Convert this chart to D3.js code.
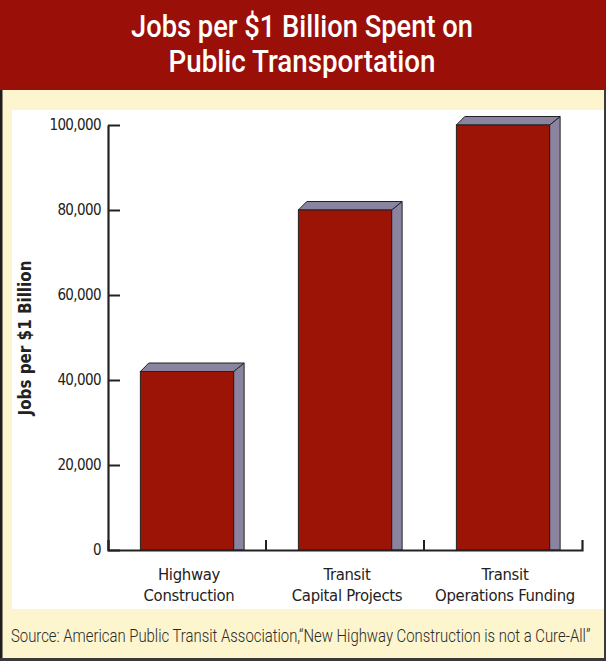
<!DOCTYPE html>
<html>
<head>
<meta charset="utf-8">
<script src="https://cdn.jsdelivr.net/npm/d3@7"></script>
<style>
  html, body { margin: 0; padding: 0; background: #fcf5cd; }
  svg { display: block; }
</style>
</head>
<body>
<svg id="chart" width="606" height="661"></svg>
<script>
// Chart data
const titleLines = ["Jobs per $1 Billion Spent on", "Public Transportation"];
const categories = [
  ["Highway", "Construction"],
  ["Transit", "Capital Projects"],
  ["Transit", "Operations Funding"]
];
const jobs = [42000, 80000, 100000];
const yTicks = [0, 20000, 40000, 60000, 80000, 100000];
const yAxisTitle = "Jobs per $1 Billion";
const sourceNote = "Source: American Public Transit Association,\u201CNew Highway Construction is not a Cure-All\u201D";

const W = 606, H = 661;
const svg = d3.select("#chart");

const RED = "#9a0f08";
const CREAM = "#fcf5cd";
const BAR_FRONT = "#9c1405";
const BAR_SIDE = "#8b84a0";
const INK = "#222";
const condensed = "'DejaVu Sans Condensed', 'DejaVu Sans', sans-serif";

// Squeeze a text horizontally so that its drawn width becomes `target`,
// keeping it anchored at (ax, ay) with the given alignment.
function squeeze(textSel, ax, ay, target, anchor) {
  const node = textSel.node();
  const w = node.getComputedTextLength();
  const s = target / w;
  textSel.attr("x", 0).attr("y", 0).attr("text-anchor", anchor)
    .attr("transform", `translate(${ax},${ay}) scale(${s},1)`);
}

// Page frame: cream card, red title banner, dark edges
svg.append("rect").attr("x", 0).attr("y", 0).attr("width", W).attr("height", H).attr("fill", CREAM);
svg.append("rect").attr("x", 0).attr("y", 0).attr("width", W).attr("height", 90).attr("fill", RED);
svg.append("rect").attr("x", 0).attr("y", 90).attr("width", 2.5).attr("height", H - 90).attr("fill", "#1e1e1e");
svg.append("rect").attr("x", W - 2).attr("y", 90).attr("width", 2).attr("height", H - 90).attr("fill", "#3a3a3a");
svg.append("rect").attr("x", 0).attr("y", H - 3).attr("width", W).attr("height", 3).attr("fill", "#3a3a3a");

// White plotting panel
svg.append("rect").attr("x", 12).attr("y", 110).attr("width", W - 14).attr("height", 499).attr("fill", "#ffffff");

// Title, two lines in one text block
const titleWidths = [342, 267];
const title = svg.append("text")
  .attr("fill", "#ffffff")
  .attr("font-family", "Roboto, 'Open Sans', sans-serif")
  .attr("font-weight", 500)
  .attr("font-size", 32)
  .attr("text-anchor", "middle");
title.selectAll("tspan").data(titleLines).join("tspan")
  .attr("x", 302)
  .attr("y", (d, i) => 37 + i * 35)
  .attr("textLength", (d, i) => titleWidths[i])
  .attr("lengthAdjust", "spacingAndGlyphs")
  .text(d => d);

// Scales
const x = d3.scaleBand()
  .domain(d3.range(categories.length))
  .range([108, 582])
  .paddingInner(0.41)
  .paddingOuter(0.205);

const y = d3.scaleLinear().domain([0, 100000]).range([550, 125]);

// Y axis: ticks point inward, labels on the left
const yAxis = d3.axisLeft(y)
  .tickValues(yTicks)
  .tickFormat(d3.format(","))
  .tickSizeInner(-12)
  .tickSizeOuter(0)
  .tickPadding(7);

const gy = svg.append("g").attr("transform", "translate(108,0)").call(yAxis);
gy.select(".domain").attr("stroke", INK).attr("stroke-width", 2.2);
gy.selectAll(".tick line").attr("stroke", INK).attr("stroke-width", 2);
gy.selectAll(".tick text")
  .attr("fill", INK)
  .attr("font-family", condensed)
  .attr("font-stretch", "condensed")
  .attr("font-size", 15)
  .attr("letter-spacing", -0.6);

// Y axis title
const yTitle = svg.append("text")
  .attr("fill", INK)
  .attr("font-family", condensed)
  .attr("font-stretch", "condensed")
  .attr("font-weight", "bold")
  .attr("font-size", 18)
  .text(yAxisTitle);
{
  const w = yTitle.node().getComputedTextLength();
  yTitle.attr("text-anchor", "middle")
    .attr("transform", `translate(31,338) rotate(-90) scale(${155 / w},1)`);
}

// 3D bars: right side, top face, front face
const dx = 10.5, dy = 8.5;
const bars = svg.append("g").selectAll("g").data(jobs).join("g");

bars.append("path")
  .attr("d", (v, i) => {
    const x0 = x(i), w = x.bandwidth(), yt = y(v), yb = y(0);
    return `M${x0 + w},${yt}L${x0 + w + dx},${yt - dy}L${x0 + w + dx},${yb}L${x0 + w},${yb}Z`;
  })
  .attr("fill", BAR_SIDE)
  .attr("stroke", INK)
  .attr("stroke-width", 1);

bars.append("path")
  .attr("d", (v, i) => {
    const x0 = x(i), w = x.bandwidth(), yt = y(v);
    return `M${x0},${yt}L${x0 + dx * 0.8},${yt - dy}L${x0 + w + dx},${yt - dy}L${x0 + w},${yt}Z`;
  })
  .attr("fill", BAR_SIDE)
  .attr("stroke", INK)
  .attr("stroke-width", 1);

bars.append("rect")
  .attr("x", (v, i) => x(i))
  .attr("y", v => y(v))
  .attr("width", x.bandwidth())
  .attr("height", v => y(0) - y(v))
  .attr("fill", BAR_FRONT)
  .attr("stroke", INK)
  .attr("stroke-width", 1);

// X axis baseline with upward end ticks
const xAxis = d3.axisBottom(x).tickValues([]).tickSizeOuter(-10);
const gx = svg.append("g").attr("transform", `translate(0,${y(0)})`).call(xAxis);
gx.select(".domain").attr("stroke", INK).attr("stroke-width", 2.2).attr("fill", "none");

// Separator ticks between categories
svg.append("g").selectAll("line")
  .data(d3.range(1, categories.length))
  .join("line")
  .attr("x1", i => x(i) - x.step() * x.paddingInner() / 2)
  .attr("x2", i => x(i) - x.step() * x.paddingInner() / 2)
  .attr("y1", y(0))
  .attr("y2", y(0) - 10)
  .attr("stroke", INK)
  .attr("stroke-width", 2);

// Category labels (two lines each)
const labels = svg.append("g").selectAll("text").data(categories).join("text")
  .attr("text-anchor", "middle")
  .attr("fill", INK)
  .attr("font-family", condensed)
  .attr("font-stretch", "condensed")
  .attr("font-size", 16.5)
  .attr("letter-spacing", -0.3);

labels.selectAll("tspan").data((d, i) => d.map(t => ({ t, i }))).join("tspan")
  .attr("x", d => x(d.i) + x.bandwidth() / 2 + 2)
  .attr("y", (d, j) => 580 + j * 21)
  .text(d => d.t);

// Source note, squeezed to the card width
const src = svg.append("text")
  .attr("fill", "#2a2a2a")
  .attr("font-family", "Roboto, 'Open Sans', sans-serif")
  .attr("font-weight", 300)
  .attr("font-size", 18)
  .text(sourceNote);
squeeze(src, 11, 642, 580, "start");
</script>
</body>
</html>
